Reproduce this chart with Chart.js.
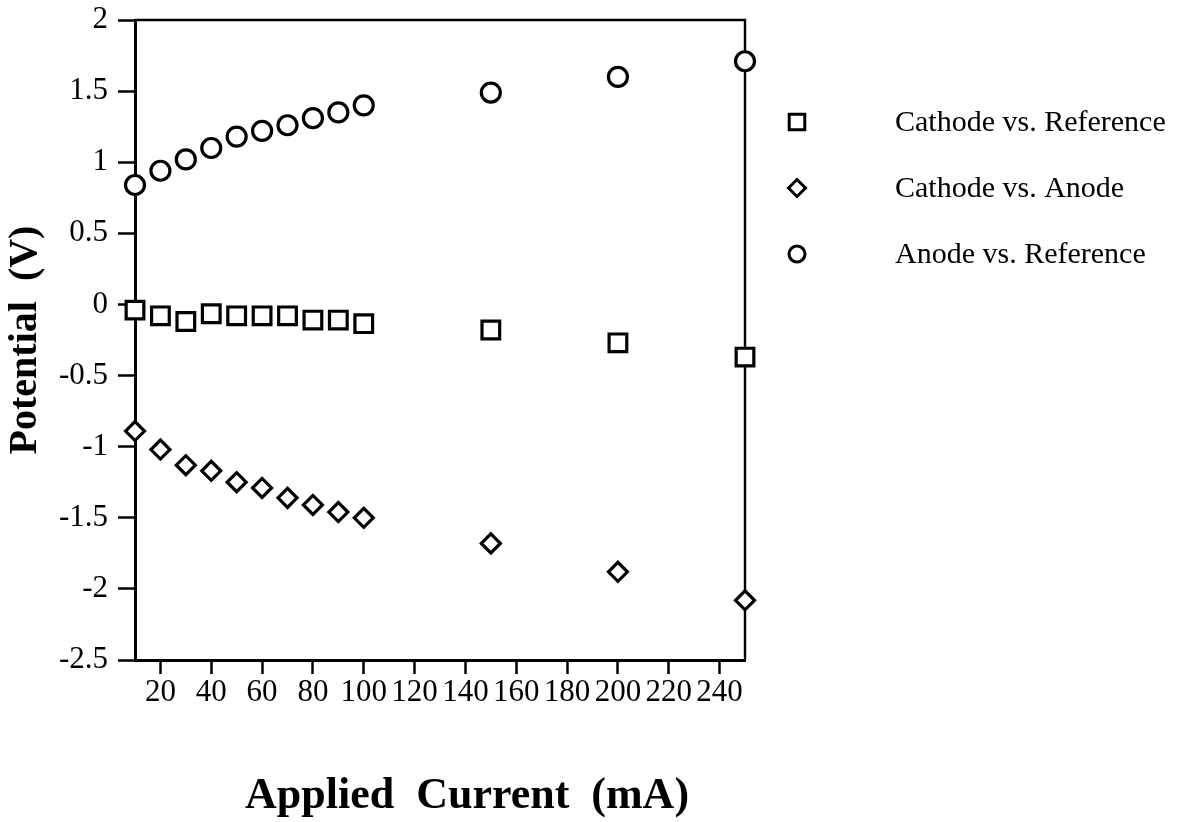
<!DOCTYPE html>
<html><head><meta charset="utf-8">
<script src="https://cdn.jsdelivr.net/npm/chart.js@4.4.0/dist/chart.umd.min.js"></script>
<style>html,body{margin:0;padding:0;background:#fff;} #wrap{width:1178px;height:822px;}</style>
</head><body><div id="wrap"><canvas id="c" width="1178" height="822"></canvas></div>
<script>
const currents = [10, 20, 30, 40, 50, 60, 70, 80, 90, 100, 150, 200, 250];
const cathodeVsReference = [-0.04, -0.08, -0.12, -0.065, -0.08, -0.08, -0.08, -0.11, -0.11, -0.135, -0.18, -0.27, -0.37];
const cathodeVsAnode = [-0.89, -1.02, -1.13, -1.17, -1.25, -1.29, -1.36, -1.41, -1.46, -1.50, -1.68, -1.88, -2.08];
const anodeVsReference = [0.84, 0.94, 1.02, 1.10, 1.18, 1.22, 1.26, 1.31, 1.35, 1.40, 1.49, 1.60, 1.71];
const seriesNames = ['Cathode vs. Reference', 'Cathode vs. Anode', 'Anode vs. Reference'];
const xTickValues = [20, 40, 60, 80, 100, 120, 140, 160, 180, 200, 220, 240];
const yTickValues = [2, 1.5, 1, 0.5, 0, -0.5, -1, -1.5, -2, -2.5];
const yTickLabels = ['2', '1.5', '1', '0.5', '0', '-0.5', '-1', '-1.5', '-2', '-2.5'];
const xTitle = 'Applied  Current  (mA)';
const yTitle = 'Potential  (V)';

const SERIF = "'Liberation Serif', 'Times New Roman', serif";

function pts(ys) { return currents.map((x, i) => ({x: x, y: ys[i]})); }

const styles = [
  {pointStyle: 'rect', radius: 12.5, legendRadius: 11},
  {pointStyle: 'rectRot', radius: 9.5, legendRadius: 8.5},
  {pointStyle: 'circle', radius: 9.5, legendRadius: 8}
];
const seriesData = [cathodeVsReference, cathodeVsAnode, anodeVsReference];

const datasets = seriesData.map((d, i) => ({
  label: seriesNames[i],
  data: pts(d),
  showLine: false,
  pointStyle: styles[i].pointStyle,
  pointRadius: styles[i].radius,
  pointHoverRadius: styles[i].radius,
  pointBorderWidth: 3.2,
  pointBorderColor: '#000',
  pointBackgroundColor: '#fff',
  borderColor: '#000',
  backgroundColor: '#fff',
  clip: false
}));

const framePlugin = {
  id: 'frame',
  beforeDatasetsDraw(chart) {
    const {ctx, chartArea: a} = chart;
    ctx.save();
    ctx.strokeStyle = '#000';
    ctx.lineWidth = 2.4;
    ctx.beginPath();
    ctx.moveTo(a.left, a.top);
    ctx.lineTo(a.right, a.top);
    ctx.lineTo(a.right, a.bottom);
    ctx.stroke();
    ctx.restore();
  }
};

const decorPlugin = {
  id: 'decor',
  afterDraw(chart) {
    const ctx = chart.ctx;
    ctx.save();
    ctx.fillStyle = '#000';
    ctx.font = "bold 44px " + SERIF;
    ctx.textAlign = 'center';
    ctx.textBaseline = 'middle';
    ctx.fillText(xTitle, 467, 797);
    const rows = [122, 188, 254];
    chart.data.datasets.forEach((ds, i) => {
      ctx.strokeStyle = '#000';
      ctx.fillStyle = '#fff';
      ctx.lineWidth = 3;
      Chart.helpers.drawPoint(ctx, {pointStyle: ds.pointStyle, radius: styles[i].legendRadius, rotation: 0, borderWidth: 3}, 797, rows[i]);
      ctx.fillStyle = '#000';
      ctx.font = "30px " + SERIF;
      ctx.textAlign = 'left';
      ctx.textBaseline = 'middle';
      ctx.fillText(ds.label, 895, rows[i] + 1);
    });
    ctx.restore();
  }
};

new Chart(document.getElementById('c'), {
  type: 'scatter',
  data: {datasets},
  options: {
    responsive: false,
    animation: false,
    devicePixelRatio: 1,
    layout: {padding: {left: 0, top: 20, right: 433, bottom: 102}},
    plugins: {legend: {display: false}, tooltip: {enabled: false}},
    scales: {
      x: {
        type: 'linear',
        min: 10, max: 250,
        afterBuildTicks: (s) => { s.ticks = xTickValues.map(v => ({value: v})); },
        afterFit: (s) => { s.height = 60; s.paddingLeft = 0; s.paddingRight = 0; },
        ticks: {
          color: '#000', font: {family: SERIF, size: 31}, padding: 0,
          autoSkip: false, maxRotation: 0, minRotation: 0,
          callback: (v) => String(v)
        },
        grid: {drawOnChartArea: false, drawTicks: true, tickLength: 14, tickWidth: 2.5, tickColor: '#000', color: '#000'},
        border: {display: true, color: '#000', width: 3}
      },
      y: {
        type: 'linear',
        min: -2.5, max: 2,
        afterBuildTicks: (s) => { s.ticks = yTickValues.slice().reverse().map(v => ({value: v})); },
        afterFit: (s) => { s.width = 135; s.paddingTop = 0; s.paddingBottom = 0; },
        ticks: {
          color: '#000', font: {family: SERIF, size: 31}, padding: 10,
          callback: (v) => yTickLabels[yTickValues.indexOf(v)]
        },
        grid: {drawOnChartArea: false, drawTicks: true, tickLength: 17, tickWidth: 2.5, tickColor: '#000', color: '#000'},
        border: {display: true, color: '#000', width: 3},
        title: {display: true, text: yTitle, color: '#000', font: {family: SERIF, size: 40, weight: 'bold'}, padding: {top: 2, bottom: 0}}
      }
    }
  },
  plugins: [framePlugin, decorPlugin]
});
</script>
</body></html>
